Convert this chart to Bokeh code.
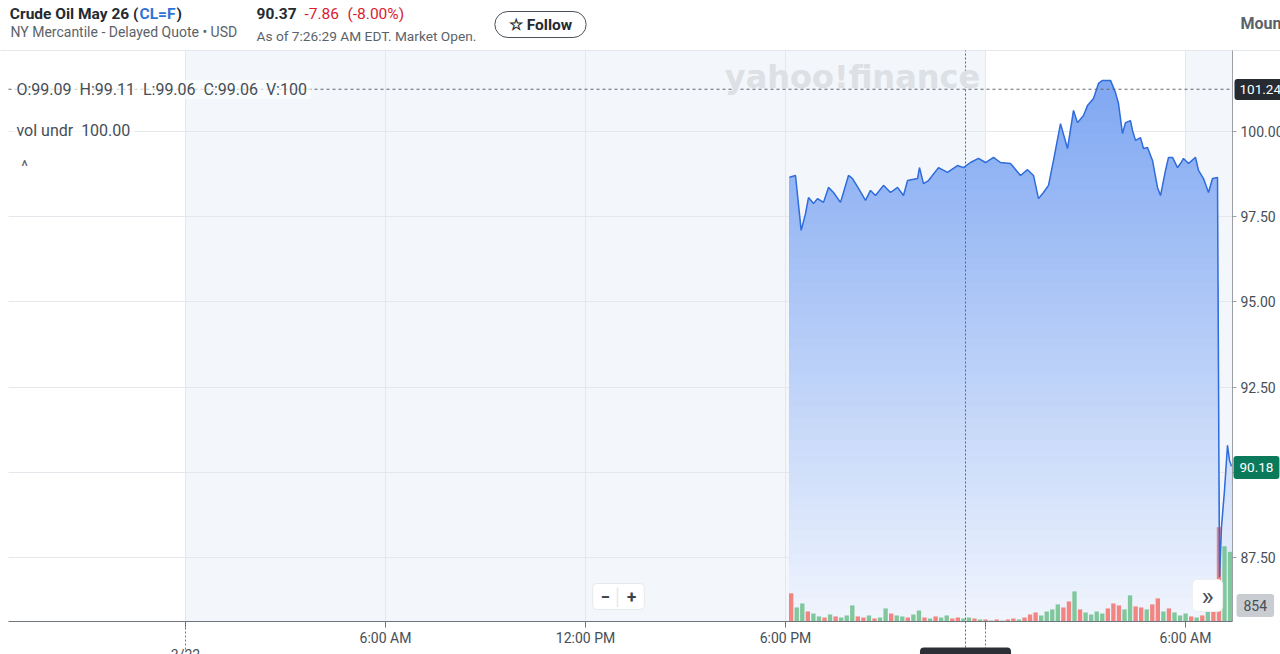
import numpy as np
from bokeh.plotting import figure
from bokeh.models import (Range1d, FixedTicker, NumeralTickFormatter, Label,
                          BoxAnnotation, LinearAxis)
from bokeh.embed import file_html
from bokeh.resources import INLINE

# ---------------- data ----------------
# hours since 3/22 00:00 (EDT)
t_hours = [18.12, 18.30, 18.47, 18.60, 18.69, 18.84, 18.96, 19.14, 19.29, 19.44,
           19.65, 19.89, 20.01, 20.19, 20.40, 20.55, 20.70, 20.94, 21.15, 21.36,
           21.54, 21.66, 21.96, 22.02, 22.14, 22.29, 22.59, 22.86, 23.16, 23.34,
           23.55, 23.79, 24.00, 24.24, 24.45, 24.75, 25.05, 25.26, 25.44, 25.59,
           25.74, 25.89, 26.04, 26.25, 26.46, 26.64, 26.76, 26.94, 27.06, 27.24,
           27.39, 27.51, 27.75, 27.90, 27.99, 28.11, 28.20, 28.35, 28.41, 28.50,
           28.65, 28.74, 28.86, 29.01, 29.16, 29.25, 29.40, 29.49, 29.61, 29.76,
           29.85, 29.94, 30.09, 30.30, 30.39, 30.54, 30.69, 30.81, 30.96, 31.02,
           31.08, 31.17, 31.26, 31.32, 31.38]
price = [98.66, 98.71, 97.10, 97.59, 98.06, 97.89, 98.03, 97.92, 98.36, 98.21,
         97.92, 98.71, 98.62, 98.33, 97.98, 98.27, 98.12, 98.42, 98.21, 98.36,
         98.12, 98.56, 98.62, 98.94, 98.47, 98.56, 98.94, 98.80, 99.00, 98.94,
         99.09, 99.21, 99.09, 99.24, 99.09, 99.06, 98.71, 98.88, 98.71, 98.03,
         98.21, 98.42, 99.15, 100.23, 99.50, 100.62, 100.26, 100.47, 100.76, 100.97,
         101.41, 101.50, 101.50, 101.14, 100.82, 99.94, 100.26, 100.32, 100.03, 99.74,
         99.82, 99.50, 99.53, 99.15, 98.36, 98.12, 98.86, 99.24, 99.24, 98.94,
         99.06, 99.21, 99.06, 99.24, 98.86, 98.62, 98.21, 98.62, 98.65, 86.92,
         88.40, 89.47, 90.79, 90.35, 90.18]

# volume bars, 10-minute buckets starting 18:10 on 3/22
vol_start_h = 18.17
vol_step_h = 10 / 60
volume = [345, 172, 221, 123, 98, 62, 49, 86, 62, 49,
          74, 197, 62, 49, 74, 37, 49, 160, 98, 74,
          62, 49, 86, 135, 49, 37, 62, 49, 74, 37,
          49, 37, 49, 37, 25, 25, 12, 25, 12, 25,
          37, 25, 49, 86, 111, 74, 123, 148, 209, 172,
          246, 369, 148, 111, 86, 123, 98, 160, 221, 197,
          148, 320, 185, 172, 148, 209, 283, 123, 160, 111,
          74, 98, 62, 49, 74, 369, 246, 1156, 922, 854]
vol_dir = ("rggrggrgrg" "ggrrgrggrg" "grggrgrggr" "rggrgrgrgr"
           "rgrrrggggr" "rgrggggrrr" "ggrrgrrgrg" "ggrgrgrrgg")

price_ticks = [87.5, 90.0, 92.5, 95.0, 97.5, 100.0]
x_tick_hours = [0, 6, 12, 18, 24, 30]
x_tick_labels = ["", "6:00 AM", "12:00 PM", "6:00 PM", "", "6:00 AM"]
day_hours = [0, 24]
day_labels = ["3/22", "3/23"]
crosshair_hour = 23.4
crosshair_price = 101.24
crosshair_label = "3/22 11:34 PM"
last_price = 90.18
last_volume = 854
ohlc_text = "\u00a0O:99.09\u00a0\u00a0H:99.11\u00a0\u00a0L:99.06\u00a0\u00a0C:99.06\u00a0\u00a0V:100\u00a0"

# ---------------- geometry ----------------
W, H = 1280, 654
PPX = 34.08                 # px per price unit
PPH = 200 / 6               # px per hour
Y0, Y1 = 85.622, 102.377    # price at chart bottom / top edge
XL, XR = -5.31, 31.41       # hours at chart left / right edge
VOL_TOP = 7000              # volume at chart top edge
VPP = VOL_TOP / ((Y1 - Y0) * PPX)

p = figure(width=W, height=H,
           x_range=Range1d(XL - 8 / PPH, XL - 8 / PPH + W / PPH),
           y_range=Range1d(Y0 - 33 / PPX, Y0 - 33 / PPX + H / PPX),
           x_axis_location=None, y_axis_location=None,
           output_backend="svg", toolbar_location=None,
           min_border=0, background_fill_color="white", border_fill_color="white")
p.outline_line_color = None
p.extra_y_ranges = {"vol": Range1d(-33 * VPP, -33 * VPP + H * VPP)}

# shaded session bands
for l, r in [(0, 24), (30, XR)]:
    p.add_layout(BoxAnnotation(left=l, right=r, bottom=Y0, top=Y1, fill_color="#f3f6fa",
                               fill_alpha=1, line_color=None, level="image"))

p.xgrid.ticker = FixedTicker(ticks=x_tick_hours)
p.ygrid.ticker = FixedTicker(ticks=price_ticks)
p.xgrid.grid_line_color = "#e4e8ed"
p.ygrid.grid_line_color = "#e4e8ed"

# white covers outside chart area (hide grid overflow)
for kw in [dict(bottom=Y1), dict(top=Y0), dict(left=XR), dict(right=XL)]:
    p.add_layout(BoxAnnotation(fill_color="white", fill_alpha=1, line_color=None,
                               level="underlay", **kw))

# axes (fixed inside the canvas)
xaxis = LinearAxis(fixed_location=Y0, bounds=(XL, XR),
                   ticker=FixedTicker(ticks=x_tick_hours),
                   major_label_overrides={h: s for h, s in zip(x_tick_hours, x_tick_labels)})
xaxis.axis_line_color = "#6e757c"
xaxis.major_tick_line_color = "#6e757c"
xaxis.major_tick_out = 6
xaxis.major_tick_in = 0
xaxis.minor_tick_line_color = None
xaxis.major_label_standoff = 2
xaxis.major_label_text_font = "Roboto"
xaxis.major_label_text_font_size = "14px"
xaxis.major_label_text_color = "#464e56"
p.add_layout(xaxis, "below")

yaxis = LinearAxis(fixed_location=XR, bounds=(Y0, Y1),
                   ticker=FixedTicker(ticks=price_ticks),
                   formatter=NumeralTickFormatter(format="0.00"))
yaxis.axis_line_color = "#9aa0a6"
yaxis.major_tick_line_color = "#9aa0a6"
yaxis.major_tick_out = 4
yaxis.major_tick_in = 0
yaxis.minor_tick_line_color = None
yaxis.major_label_standoff = 4
yaxis.major_label_text_font = "Roboto"
yaxis.major_label_text_font_size = "14px"
yaxis.major_label_text_color = "#464e56"
p.add_layout(yaxis, "right")

# chart top border line
p.segment(x0=[XL - 1], y0=[Y1], x1=[XR + 3], y1=[Y1], line_color="#e3e6ea", line_width=1)

# gradient area under price (stacked layers, top colour first)
tx = np.array(t_hours)
py = np.array(price)
top_rgb = np.array([128, 168, 242])
bot_rgb = np.array([242, 246, 254])
edges = np.linspace(Y0, 101.6, 49)
for k in range(len(edges) - 1, 0, -1):
    frac = (edges[k] - Y0) / (101.6 - Y0)
    c = (bot_rgb + (top_rgb - bot_rgb) * frac).astype(int)
    col = "#%02x%02x%02x" % tuple(c)
    cap = edges[k] if k < len(edges) - 1 else 200
    p.varea(x=tx, y1=Y0, y2=np.minimum(py, cap), fill_color=col, fill_alpha=1)

# volume bars
vt = vol_start_h + vol_step_h * np.arange(len(volume))
vcol = ["#6cc08b" if d == "g" else "#f2716b" for d in vol_dir]
p.vbar(x=vt, top=volume, bottom=0, width=0.13, y_range_name="vol",
       fill_color=vcol, line_color=None, fill_alpha=0.85)

# price line
p.line(tx, py, line_color="#2f6cdc", line_width=1.5)

# crosshair
p.segment(x0=[XL], y0=[crosshair_price], x1=[XR], y1=[crosshair_price],
          line_color="#5f666d", line_dash="3 3", line_width=1)
p.segment(x0=[crosshair_hour], y0=[Y0 - 30 / PPX], x1=[crosshair_hour], y1=[Y1],
          line_color="#5f666d", line_dash="2 2", line_width=1)
# day-boundary dotted ticks
p.segment(x0=day_hours, y0=Y0 - 6 / PPX, x1=day_hours, y1=Y0 - 30 / PPX,
          line_color="#6e757c", line_dash="2 2", line_width=1)


def lab(px, pyy, text, size, color, align="left", baseline="middle", style="normal",
        font="Roboto", **kw):
    p.add_layout(Label(x=px, y=H - pyy, x_units="screen", y_units="screen",
                       text=text, text_font=font, text_font_size=f"{size}px",
                       text_color=color, text_align=align, text_baseline=baseline,
                       text_font_style=style, **kw))


# watermark
lab(852, 76, "yahoo!finance", 32, "#dde0e5", align="center", style="bold",
    font="DejaVu Sans")

# in-chart legend texts
lab(12, 89, ohlc_text, 16, "#464e56", background_fill_color="white",
    background_fill_alpha=0.65)
lab(12, 130, "\u00a0vol undr\u00a0\u00a0100.00\u00a0", 16, "#464e56",
    background_fill_color="white", background_fill_alpha=0.65)
lab(24, 166, "^", 16, "#5b636a", align="center")

# header
lab(138, 13, "Crude Oil May 26 (", 15.5, "#232a31", align="right", style="bold")
lab(139, 13, "CL=F", 15.5, "#2f72d8", style="bold")
lab(176, 13, ")", 15.5, "#232a31", style="bold")
lab(10, 31, "NY Mercantile - Delayed Quote \u2022 USD", 14, "#5b636a")
lab(256, 13, "90.37", 15.5, "#232a31", style="bold")
lab(304, 13, "-7.86", 15.5, "#d81b30")
lab(347, 13, "(-8.00%)", 15.5, "#d81b30")
lab(256, 35, "As of 7:26:29 AM EDT. Market Open.", 13.7, "#5b636a")
lab(540, 24, "\u2606 Follow", 15.5, "#232a31", align="center",
    style="bold", background_fill_color="white", border_line_color="#4a5158",
    border_line_width=1, padding=(14, 4), border_radius=13)
lab(1240, 23, "Mountain", 16, "#5b636a", style="bold")

# right-side value tags
lab(1234, 89, f"{crosshair_price:.2f}", 13.5, "white", background_fill_color="#262b31",
    padding=(5, 6), border_radius=3)
lab(1233, 467, f"{last_price:.2f}", 13.5, "white", background_fill_color="#0b7a5b",
    padding=(6, 7), border_radius=3)
lab(1236, 605, f"{last_volume}", 14, "#464e56", background_fill_color="#c9cdd2",
    padding=(7, 6), border_radius=3)

# bottom texts
lab(185, 646, day_labels[0], 14, "#464e56", align="center", baseline="top")
lab(965, 647, crosshair_label, 12, "white", align="center", baseline="top",
    background_fill_color="#2c3036", padding=(6, 4), border_radius=4)

# zoom buttons
lab(618, 596, "\u2212\u00a0\u00a0\u00a0\u00a0+", 17, "#3a4148", align="center",
    style="bold", background_fill_color="white", border_line_color="#e6e9ed",
    padding=(8, 3), border_radius=4)
lab(617, 596, "\u2502", 16, "#e3e6ea", align="center")
lab(1207, 595, "\u00bb", 26, "#464e56", align="center",
    background_fill_color="white", border_line_color="#eceef1", padding=(9, 1),
    border_radius=5)

open("out.html", "w").write(file_html(p, INLINE))
